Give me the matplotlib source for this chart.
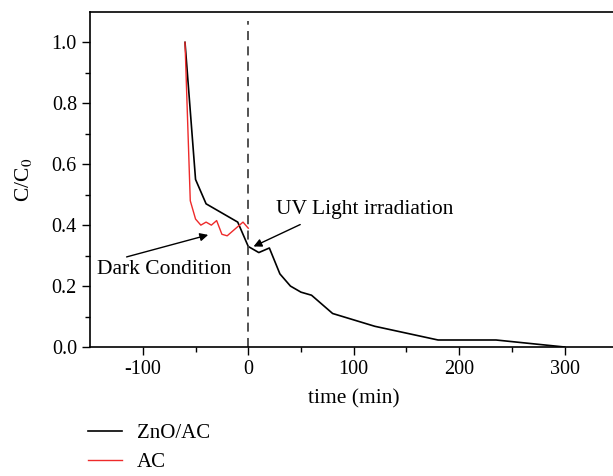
import numpy as np
import matplotlib.pyplot as plt

plt.rcParams['font.family'] = ['Liberation Serif', 'DejaVu Serif']
plt.rcParams['mathtext.fontset'] = 'stix'

# ZnO/AC composite
t_zno = [-60, -50, -40, -30, -10, 0, 10, 20, 30, 40, 50, 60, 80, 120, 180, 235, 300]
c_zno = [1.0, 0.55, 0.47, 0.45, 0.41, 0.33, 0.31, 0.325, 0.24, 0.20, 0.18, 0.17,
         0.11, 0.068, 0.023, 0.023, 0.0]

# activated carbon only
t_ac = [-60, -55, -50, -45, -40, -35, -30, -25, -20, -15, -5, 0]
c_ac = [1.0, 0.48, 0.42, 0.40, 0.41, 0.40, 0.415, 0.37, 0.365, 0.38, 0.41, 0.39]

xticks = [-100, 0, 100, 200, 300]
yticks = [0.0, 0.2, 0.4, 0.6, 0.8, 1.0]

fig = plt.figure(figsize=(6.13, 4.76), dpi=100)
ax = fig.add_axes([0.147, 0.271, 0.8600, 0.704])

l1, = ax.plot(t_zno, c_zno, color='black', lw=1.2, label='ZnO/AC')
l2, = ax.plot(t_ac, c_ac, color='#ee2a2a', lw=1.0, label='AC')
ax.plot([0, 0], [0, 1.07], color='#444444', lw=1.3, ls=(0, (5, 3.5)))

ax.set_xlim(-150, 350)
ax.set_ylim(0, 1.1)
ax.set_xticks(xticks)
ax.set_xticks([-50, 50, 150, 250], minor=True)
ax.set_yticks(yticks)
ax.set_yticks([0.1, 0.3, 0.5, 0.7, 0.9], minor=True)
ax.set_xticklabels([str(v) for v in xticks])
ax.set_yticklabels(['%.1f' % v for v in yticks])
ax.tick_params(direction='out', labelsize=14.5, length=6, width=1)
ax.tick_params(which='minor', direction='out', length=3.5, width=1)
ax.spines['right'].set_visible(False)
for s in ['left', 'bottom', 'top']:
    ax.spines[s].set_linewidth(1.2)

ax.set_xlabel('time (min)', fontsize=15.5, labelpad=7)
ax.set_ylabel('C/C$_0$', fontsize=15.5, labelpad=13)

ax.annotate('UV Light irradiation', xy=(5, 0.33), xytext=(26, 0.45),
            fontsize=15.5, va='center',
            arrowprops=dict(arrowstyle='-|>', color='black', lw=1.0,
                            shrinkA=4, shrinkB=0, mutation_scale=12,
                            relpos=(0.2, 0.0)))
ax.annotate('Dark Condition', xy=(-38, 0.368), xytext=(-143, 0.253),
            fontsize=15.5, va='center',
            arrowprops=dict(arrowstyle='-|>', color='black', lw=1.0,
                            shrinkA=2, shrinkB=0, mutation_scale=12,
                            relpos=(0.12, 1.0)))

fig.legend(handles=[l1, l2], loc='upper left', bbox_to_anchor=(0.14, 0.115),
           frameon=False, fontsize=15, handlelength=1.65, handletextpad=0.7,
           labelspacing=0.45, borderpad=0.1, borderaxespad=0)

fig.savefig('out.png', dpi=100)
